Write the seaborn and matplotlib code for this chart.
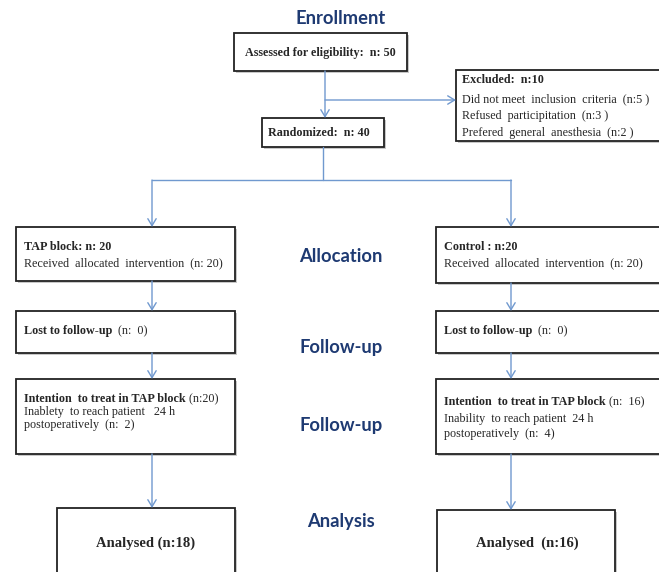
import seaborn as sns
import matplotlib.pyplot as plt
from matplotlib.patches import Rectangle

sns.set_style("white")

# flow numbers
stages = ["Enrollment", "Allocation", "Follow-up", "Follow-up", "Analysis"]
assessed_n = 50
excluded_n = 10
exclusion_reasons = ["Did not meet  inclusion  criteria", "Refused  participitation", "Prefered  general  anesthesia"]
exclusion_counts = [5, 3, 2]
randomized_n = 40
groups = ["TAP block", "Control"]
allocated = [20, 20]
received = [20, 20]
lost = [0, 0]
itt = [20, 16]
unreachable = [2, 4]
analysed = [18, 16]

LINE = "#7099cf"
NAVY = "#1e3a72"
SERIF = "Liberation Serif"
FS = 8.7

fig = plt.figure(figsize=(6.59, 5.72), dpi=100)
ax = fig.add_axes([0, 0, 1, 1])
ax.set_xlim(0, 659)
ax.set_ylim(572, 0)
ax.axis("off")


def box(x0, y0, x1, y1):
    ax.add_patch(Rectangle((x0 + 2, y0 + 2), x1 - x0, y1 - y0, fc="#c8c8c8", ec="none", zorder=1))
    ax.add_patch(Rectangle((x0, y0), x1 - x0, y1 - y0, fc="white", ec="#222222", lw=1.3, zorder=2))


def line(xs, ys):
    ax.plot(xs, ys, color=LINE, lw=1.0, zorder=3)


def arrow(x0, y0, x1, y1):
    ax.annotate("", xy=(x1, y1), xytext=(x0, y0),
                arrowprops=dict(arrowstyle="->,head_length=0.5,head_width=0.3", color=LINE, lw=1.0,
                                shrinkA=0, shrinkB=0), zorder=3)


def mixed(x, y, bold, regular="", size=FS):
    t = ax.text(x, y, bold, fontfamily=SERIF, fontweight="bold", fontsize=size, va="center", ha="left", zorder=4)
    if regular:
        ax.annotate(regular, xy=(1, 0), xycoords=t, va="bottom", ha="left",
                    fontfamily=SERIF, fontsize=size, zorder=4)
    return t


def plain(x, y, s, size=FS):
    ax.text(x, y, s, fontfamily=SERIF, fontsize=size, va="center", ha="left", zorder=4)


# stage labels
for label, y in zip(stages, [18, 256, 348, 425, 521]):
    ax.text(341, y, label, fontfamily="Lato", fontweight="bold", fontsize=13.2, color=NAVY,
            ha="center", va="center")

# enrollment
box(234, 33, 407, 71)
ax.text(320, 53, f"Assessed for eligibility:  n: {assessed_n}", fontfamily=SERIF, fontweight="bold",
        fontsize=FS, ha="center", va="center", zorder=4)
arrow(325, 71, 325, 118)
arrow(325, 100, 456, 100)

box(456, 70, 662, 141)
mixed(462, 80, f"Excluded:  n:{excluded_n}")
for i, (reason, c) in enumerate(zip(exclusion_reasons, exclusion_counts)):
    plain(462, 99 + i * 17, f"{reason}  (n:{c} )")

box(262, 118, 384, 147)
mixed(268, 133, f"Randomized:  n: {randomized_n}")

# split
line([323, 323], [147, 180])
line([152, 511], [180, 180])
col_x = [152, 511]
box_l = [16, 436]
box_r = [235, 662]
text_x = [24, 444]

for g in range(2):
    cx = col_x[g]
    arrow(cx, 180, cx, 227)
    box(box_l[g], 227, box_r[g], 281 + 2 * g)
    head = f"{groups[g]}: n: {allocated[g]}" if g == 0 else f"{groups[g]} : n:{allocated[g]}"
    mixed(text_x[g], 247, head)
    plain(text_x[g], 263, f"Received  allocated  intervention  (n: {received[g]})")

    arrow(cx, 281 + 2 * g, cx, 311)
    box(box_l[g], 311, box_r[g], 353)
    mixed(text_x[g], 331, "Lost to follow-up", f"  (n:  {lost[g]})")

    arrow(cx, 353, cx, 379)
    box(box_l[g], 379, box_r[g], 454)

arrow(152, 454, 152, 508)
arrow(511, 454, 511, 510)

# left ITT
mixed(text_x[0], 399, "Intention  to treat in TAP block", f" (n:{itt[0]})")
plain(text_x[0], 412, "Inablety  to reach patient   24 h")
plain(text_x[0], 425, f"postoperatively  (n:  {unreachable[0]})")
# right ITT
mixed(text_x[1], 402, "Intention  to treat in TAP block", f" (n:  {itt[1]})")
plain(text_x[1], 419, "Inability  to reach patient  24 h")
plain(text_x[1], 434, f"postoperatively  (n:  {unreachable[1]})")

# analysis
box(57, 508, 235, 590)
box(437, 510, 615, 590)
ax.text(146, 543, f"Analysed (n:{analysed[0]})", fontfamily=SERIF, fontweight="bold", fontsize=10.5,
        ha="center", va="center", zorder=4)
ax.text(527, 543, f"Analysed  (n:{analysed[1]})", fontfamily=SERIF, fontweight="bold", fontsize=10.5,
        ha="center", va="center", zorder=4)

fig.savefig("out.png", dpi=100)
